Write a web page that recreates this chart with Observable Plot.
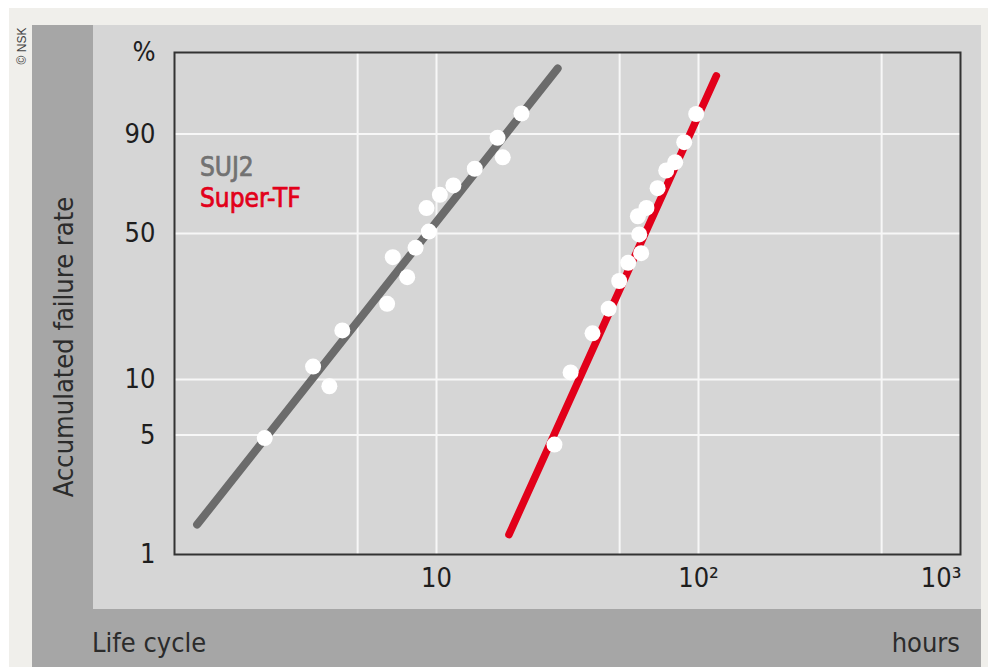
<!DOCTYPE html>
<html>
<head>
<meta charset="utf-8">
<script src="https://cdn.jsdelivr.net/npm/d3@7"></script>
<script src="https://cdn.jsdelivr.net/npm/@observablehq/plot@0.6"></script>
<style>
  html, body { margin: 0; padding: 0; background: #ffffff; }
  #wrap { position: relative; width: 988px; height: 667px; overflow: hidden;
    font-family: "Liberation Sans Narrow", "DejaVu Sans Condensed", "Arial Narrow", sans-serif; }
  .abs { position: absolute; white-space: nowrap; }
  #chart { position: absolute; left: 0; top: 0; }
</style>
</head>
<body>
<div id="wrap">
  <div class="abs" style="left:9px;top:8px;width:979px;height:659px;background:#f0efeb"></div>
  <div class="abs" style="left:32px;top:25px;width:949px;height:642px;background:#a6a6a6"></div>
  <div class="abs" style="left:93px;top:25px;width:888px;height:584px;background:#d6d6d6"></div>
  <div class="abs" style="left:22px;top:46px;font-size:12px;line-height:12px;color:#444;transform:translate(-50%,-50%) rotate(-90deg);font-family:'Liberation Sans',Arial,sans-serif">© NSK</div>
  <div class="abs" style="left:62.6px;top:347px;font-size:27px;line-height:27px;color:#2b2b2b;transform:translate(-50%,-50%) rotate(-90deg)">Accumulated failure rate</div>
  <div class="abs" style="left:92px;top:629px;font-size:27px;line-height:27px;color:#2b2b2b">Life cycle</div>
  <div class="abs" style="right:28px;top:629px;font-size:27px;line-height:27px;color:#2b2b2b">hours</div>
  <div id="chart"></div>
  <div class="abs" style="left:200px;top:154px;font-size:26px;line-height:27px;color:#727272;-webkit-text-stroke:0.7px #727272">SUJ2</div>
  <div class="abs" style="left:200px;top:185px;font-size:26px;line-height:27px;color:#e2001a;-webkit-text-stroke:0.7px #e2001a">Super-TF</div>
</div>
<script>
// Weibull probability transform
const W = p => Math.log(-Math.log(1 - p / 100));

// SUJ2 test points (hours, accumulated failure %)
const sujHours = [2.21, 3.38, 3.90, 4.37, 6.48, 6.81, 7.73, 8.32, 9.35, 9.16, 10.3, 11.6, 14.0, 17.1, 17.9, 21.1];
const sujPct   = [4.8, 11.7, 9.2, 18.0, 24.4, 40.0, 32.6, 43.8, 50.8, 61.0, 66.9, 71.0, 78.0, 88.9, 82.4, 94.8];
// Super-TF test points
const tfHours = [28.2, 32.5, 39.4, 45.4, 49.8, 53.9, 60.4, 59.4, 58.7, 63.3, 69.8, 75.3, 81.5, 88.2, 98.0];
const tfPct   = [4.4, 10.9, 17.4, 23.1, 31.3, 37.8, 41.6, 49.6, 57.4, 61.1, 69.8, 77.3, 80.6, 87.6, 94.7];
// Fitted Weibull lines (end points)
const sujFitHours = [1.22, 29.0];
const sujFitPct   = [1.5, 99.4];
const tfFitHours  = [18.9, 117];
const tfFitPct    = [1.31, 99.07];

// Axis ticks / grid
const yTickPct    = [1, 5, 10, 50, 90];
const yTickLabels = ["1", "5", "10", "50", "90"];
const yGridPct    = [5, 10, 50, 90];
const xGridHours  = [5, 10, 50, 100, 500];
const xTickHours  = [10, 100];
const xTickLabels = ["10", "10²"];
const xLastTick   = [1000];
const xLastLabel  = ["10³"];
const yDomainPct  = [1, 5, 10, 50, 90, 99.8];

const toRows = (xs, ys) => xs.map((h, i) => ({hours: h, pct: ys[i]}));
const suj = toRows(sujHours, sujPct);
const tf = toRows(tfHours, tfPct);
const sujFit = toRows(sujFitHours, sujFitPct);
const tfFit = toRows(tfFitHours, tfFitPct);

const font = '"Liberation Sans Narrow", "DejaVu Sans Condensed", "Arial Narrow", sans-serif';

const chart = Plot.plot({
  width: 988,
  height: 667,
  marginLeft: 174,
  marginRight: 28,
  marginTop: 52,
  marginBottom: 113,
  style: {background: "transparent", fontFamily: font, fontSize: "27px", color: "#1e1e1e"},
  x: {type: "log", domain: [1, 1000], axis: null},
  y: {type: "linear", domain: yDomainPct.map(W), range: [554, 434.5, 379, 233, 133.5, 52], axis: null},
  marks: [
    Plot.ruleY(yGridPct.map(W), {stroke: "#f7f7f7", strokeWidth: 2}),
    Plot.ruleX(xGridHours, {stroke: "#f7f7f7", strokeWidth: 2}),
    Plot.frame({stroke: "#333333", strokeWidth: 2}),
    Plot.axisY(yTickPct.map(W), {
      tickSize: 0, tickPadding: 19, fontSize: 27, fill: "#1e1e1e",
      tickFormat: d => yTickLabels[yTickPct.findIndex(p => Math.abs(W(p) - d) < 1e-9)],
      label: null
    }),
    Plot.text(["%"], {frameAnchor: "top-left", dx: -19, textAnchor: "end", lineAnchor: "middle", fontSize: 27, fill: "#1e1e1e"}),
    Plot.text(xTickHours, {x: d => d, frameAnchor: "bottom", dy: 24, lineAnchor: "middle", text: (d, i) => xTickLabels[i], fontSize: 27, fill: "#1e1e1e"}),
    Plot.text(xLastTick, {x: d => d, frameAnchor: "bottom", dy: 24, dx: 1, textAnchor: "end", lineAnchor: "middle", text: (d, i) => xLastLabel[i], fontSize: 27, fill: "#1e1e1e"}),
    Plot.line(sujFit, {x: "hours", y: d => W(d.pct), stroke: "#6b6b6b", strokeWidth: 8, strokeLinecap: "round"}),
    Plot.line(tfFit, {x: "hours", y: d => W(d.pct), stroke: "#e2001a", strokeWidth: 7.5, strokeLinecap: "round"}),
    Plot.dot(suj, {x: "hours", y: d => W(d.pct), r: 8, fill: "white"}),
    Plot.dot(tf, {x: "hours", y: d => W(d.pct), r: 8, fill: "white"})
  ]
});
document.getElementById("chart").appendChild(chart);
</script>
</body>
</html>
